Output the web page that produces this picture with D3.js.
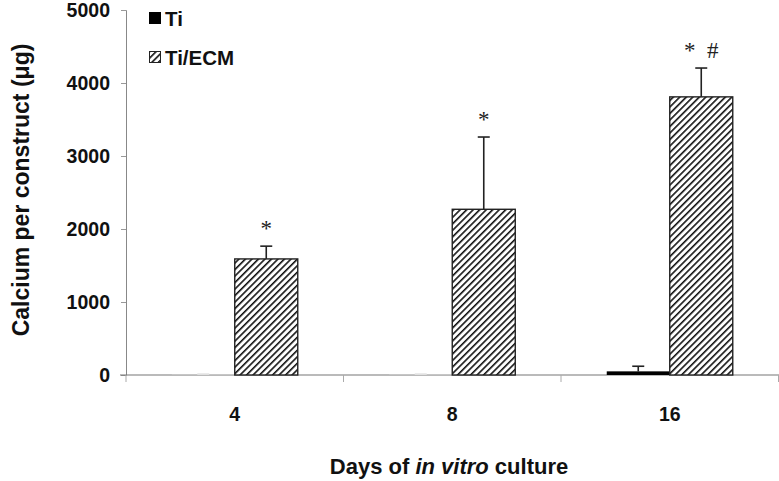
<!DOCTYPE html>
<html>
<head>
<meta charset="utf-8">
<script src="https://cdn.jsdelivr.net/npm/d3@7"></script>
<style>
  body { margin: 0; background: #fff; }
  svg { display: block; font-family: "Liberation Sans", Arial, sans-serif; }
</style>
</head>
<body>
<div id="chart"></div>
<script>
// data
const days = ["4", "8", "16"];
const seriesNames = ["Ti", "Ti/ECM"];
const tiValues = [3, 3, 50];
const tiErrors = [8, 8, 70];
const ecmValues = [1590, 2270, 3810];
const ecmErrors = [175, 990, 395];
const ecmMarks = ["*", "*", "*  #"];
const yTicks = [0, 1000, 2000, 3000, 4000, 5000];

let width = 779, height = 481;
let margin = {top: 10, right: 0, bottom: 106, left: 126};

let svg = d3.select("#chart").append("svg")
    .attr("width", width)
    .attr("height", height);

// hatch pattern for Ti/ECM
let defs = svg.append("defs");
let pat = defs.append("pattern")
    .attr("id", "hatch")
    .attr("patternUnits", "userSpaceOnUse")
    .attr("width", 4.6)
    .attr("height", 4.6)
    .attr("patternTransform", "rotate(-45)");
pat.append("rect").attr("width", 4.6).attr("height", 4.6).attr("fill", "#fff");
pat.append("line")
    .attr("x1", 0).attr("y1", 0).attr("x2", 4.6).attr("y2", 0)
    .attr("stroke", "#111").attr("stroke-width", 3.2);

let x = d3.scaleBand()
    .domain(days)
    .range([margin.left, 778.5]);

// two bars of ~63px centred in each band
let inner = d3.scaleBand()
    .domain(seriesNames)
    .range([0, x.bandwidth()])
    .paddingInner(0)
    .paddingOuter(0.726);

let y = d3.scaleLinear()
    .domain([0, 5000])
    .range([375, 10]);

let rows = days.map(function(d, i) {
    return {day: d, ti: tiValues[i], tiErr: tiErrors[i], ecm: ecmValues[i], ecmErr: ecmErrors[i], mark: ecmMarks[i]};
});

// y axis
let yAxis = svg.append("g")
    .attr("transform", "translate(" + margin.left + ",0)")
    .call(d3.axisLeft(y).tickValues(yTicks).tickFormat(d3.format("d")).tickSize(5).tickPadding(11));
yAxis.select(".domain").attr("stroke", "#888");
yAxis.selectAll(".tick line").attr("stroke", "#999");
yAxis.selectAll(".tick text")
    .attr("font-size", "19.5px")
    .attr("font-weight", "bold")
    .attr("fill", "#111")
    .attr("font-family", "Liberation Sans, Arial, sans-serif");

// x axis line and ticks at band edges
svg.append("line")
    .attr("x1", margin.left - 6).attr("x2", width)
    .attr("y1", y(0)).attr("y2", y(0))
    .attr("stroke", "#777").attr("stroke-width", 1.2);
let edges = days.map(function(d) { return x(d); }).concat([x(days[2]) + x.bandwidth()]);
svg.selectAll(".xtick")
    .data(edges)
    .enter().append("line")
    .attr("class", "xtick")
    .attr("x1", function(d) { return d; }).attr("x2", function(d) { return d; })
    .attr("y1", y(0)).attr("y2", y(0) + 7)
    .attr("stroke", "#aaa");

svg.selectAll(".xlabel")
    .data(days)
    .enter().append("text")
    .attr("class", "xlabel")
    .attr("x", function(d) { return x(d) + x.bandwidth() / 2; })
    .attr("y", 421)
    .attr("text-anchor", "middle")
    .attr("font-size", "19.5px")
    .attr("font-weight", "bold")
    .attr("fill", "#111")
    .text(function(d) { return d; });

let group = svg.selectAll(".grp")
    .data(rows)
    .enter().append("g")
    .attr("class", "grp")
    .attr("transform", function(d) { return "translate(" + x(d.day) + ",0)"; });

// error bars (upper half only)
function errBar(sel, key, errKey, name, color) {
    let cx = inner(name) + inner.bandwidth() / 2;
    sel.append("line")
        .attr("x1", cx).attr("x2", cx)
        .attr("y1", function(d) { return y(d[key]); })
        .attr("y2", function(d) { return y(d[key] + d[errKey]); })
        .attr("stroke", color).attr("stroke-width", 1.6);
    sel.append("line")
        .attr("x1", cx - 6).attr("x2", cx + 6)
        .attr("y1", function(d) { return y(d[key] + d[errKey]); })
        .attr("y2", function(d) { return y(d[key] + d[errKey]); })
        .attr("stroke", color).attr("stroke-width", 1.6);
}
errBar(group.filter(function(d) { return d.ti > 20; }), "ti", "tiErr", "Ti", "#222");
errBar(group.filter(function(d) { return d.ti <= 20; }), "ti", "tiErr", "Ti", "#ddd");
errBar(group, "ecm", "ecmErr", "Ti/ECM", "#222");

group.append("rect")
    .attr("x", inner("Ti"))
    .attr("width", inner.bandwidth())
    .attr("y", function(d) { return y(d.ti); })
    .attr("height", function(d) { return y(0) - y(d.ti); })
    .attr("fill", function(d) { return d.ti > 20 ? "#000" : "#eee"; });

group.append("rect")
    .attr("x", inner("Ti/ECM"))
    .attr("width", inner.bandwidth())
    .attr("y", function(d) { return y(d.ecm); })
    .attr("height", function(d) { return y(0) - y(d.ecm); })
    .attr("fill", "url(#hatch)")
    .attr("stroke", "#222")
    .attr("stroke-width", 1.4);

group.append("text")
    .attr("x", inner("Ti/ECM") + inner.bandwidth() / 2)
    .attr("y", function(d) { return y(d.ecm + d.ecmErr) - 10; })
    .attr("text-anchor", "middle")
    .attr("font-family", "Liberation Serif, Times New Roman, serif")
    .attr("font-size", "23px")
    .attr("fill", "#222")
    .attr("xml:space", "preserve")
    .style("white-space", "pre")
    .text(function(d) { return d.mark; });

// legend
let legend = svg.append("g").attr("transform", "translate(149,12)");
legend.append("rect").attr("x", 0).attr("y", 0).attr("width", 12).attr("height", 12).attr("fill", "#000");
legend.append("text").attr("x", 16).attr("y", 13.5).text("Ti")
    .attr("font-size", "20.5px").attr("font-weight", "bold").attr("fill", "#111");
legend.append("rect").attr("x", 0.5).attr("y", 39.5).attr("width", 11).attr("height", 11)
    .attr("fill", "url(#hatch)").attr("stroke", "#222").attr("stroke-width", 1);
legend.append("text").attr("x", 16).attr("y", 52.5).text("Ti/ECM")
    .attr("font-size", "20.5px").attr("font-weight", "bold").attr("fill", "#111");

// axis titles
svg.append("text")
    .attr("transform", "translate(29,190) rotate(-90)")
    .attr("text-anchor", "middle")
    .attr("font-size", "23px")
    .attr("font-weight", "bold")
    .attr("fill", "#111")
    .text("Calcium per construct (\u03bcg)");

let xt = svg.append("text")
    .attr("x", 449)
    .attr("y", 474)
    .attr("text-anchor", "middle")
    .attr("font-size", "22px")
    .attr("font-weight", "bold")
    .attr("fill", "#111");
xt.append("tspan").text("Days of ");
xt.append("tspan").attr("font-style", "italic").text("in vitro");
xt.append("tspan").text(" culture");
</script>
</body>
</html>
